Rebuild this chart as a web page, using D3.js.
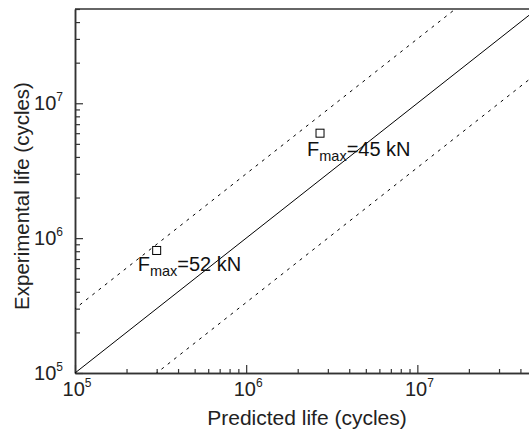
<!DOCTYPE html>
<html>
<head>
<meta charset="utf-8">
<script src="https://cdn.jsdelivr.net/npm/d3@7"></script>
<style>
	body { margin: 0; background: #fff; }
	svg { display: block; font-family: Arial, "Liberation Sans", sans-serif; }
</style>
</head>
<body>
<svg id="viz"></svg>
<script>

	// the data
	var predicted = [3.0e5, 2.7e6];
	var experimental = [8.1e5, 6.0e6];
	var loadLabels = ["52 kN", "45 kN"];
	var majorTicks = [1e5, 1e6, 1e7];
	var tickExponents = ["5", "6", "7"];
	var bandFactors = [1, 3, 1 / 3];

	// set up the svg
	var w = 529;
	var h = 433;
	var svg = d3.select("#viz").attr("width", w).attr("height", h);

	// plot box (note: "top" is taken by window.top)
	var pLeft = 75, pRight = 537, pTop = 9, pBottom = 373;

	var x = d3.scaleLog().domain([1e5, 5e7]).range([pLeft, pRight]);
	var y = d3.scaleLog().domain([1e5, 5e7]).range([pBottom, pTop]);

	svg.append("clipPath").attr("id", "plot")
		.append("rect")
		.attr("x", pLeft).attr("y", pTop)
		.attr("width", pRight - pLeft).attr("height", pBottom - pTop);

	// minor ticks = everything the log scale gives that is not a decade
	var minorX = x.ticks().filter(function(d) { return majorTicks.indexOf(d) < 0; });
	var minorY = y.ticks().filter(function(d) { return majorTicks.indexOf(d) < 0; });

	function styleAxis(g) {
		g.select(".domain").attr("stroke", "#333").attr("stroke-width", 1.5);
		g.selectAll(".tick line").attr("stroke", "#333").attr("stroke-width", 1.2);
		g.selectAll(".tick text").remove();
	}

	// x axis, ticks pointing inwards
	svg.append("g")
		.attr("transform", "translate(0," + pBottom + ")")
		.call(d3.axisBottom(x).tickValues(majorTicks).tickSize(-8).tickSizeOuter(0))
		.call(styleAxis);
	svg.append("g")
		.attr("transform", "translate(0," + pBottom + ")")
		.call(d3.axisBottom(x).tickValues(minorX).tickSize(-4).tickSizeOuter(0))
		.call(styleAxis);

	// y axis
	svg.append("g")
		.attr("transform", "translate(" + pLeft + ",0)")
		.call(d3.axisLeft(y).tickValues(majorTicks).tickSize(-8).tickSizeOuter(0))
		.call(styleAxis);
	svg.append("g")
		.attr("transform", "translate(" + pLeft + ",0)")
		.call(d3.axisLeft(y).tickValues(minorY).tickSize(-5).tickSizeOuter(0))
		.call(styleAxis);

	// top frame line
	svg.append("line")
		.attr("x1", pLeft).attr("x2", pRight)
		.attr("y1", pTop).attr("y2", pTop)
		.attr("stroke", "#333").attr("stroke-width", 1.5);

	// tick labels 10^n
	var xl = svg.selectAll(".xlab").data(majorTicks).enter().append("text")
		.attr("class", "xlab")
		.attr("x", function(d) { return x(d) + 2; })
		.attr("y", pBottom + 23)
		.attr("text-anchor", "middle")
		.attr("font-size", 20)
		.attr("fill", "#222");
	xl.append("tspan").text("10");
	xl.append("tspan").attr("font-size", 12).attr("dy", -9)
		.text(function(d, i) { return tickExponents[i]; });

	var yl = svg.selectAll(".ylab").data(majorTicks).enter().append("text")
		.attr("class", "ylab")
		.attr("x", pLeft - 12)
		.attr("y", function(d) { return y(d) + 7; })
		.attr("text-anchor", "end")
		.attr("font-size", 20)
		.attr("fill", "#222");
	yl.append("tspan").text("10");
	yl.append("tspan").attr("font-size", 12).attr("dy", -9)
		.text(function(d, i) { return tickExponents[i]; });

	// axis titles
	svg.append("text")
		.attr("x", 307).attr("y", 425)
		.attr("text-anchor", "middle")
		.attr("font-size", 21)
		.attr("fill", "#222")
		.text("Predicted life (cycles)");

	svg.append("text")
		.attr("transform", "translate(29,196) rotate(-90)")
		.attr("text-anchor", "middle")
		.attr("font-size", 20.5)
		.attr("fill", "#222")
		.text("Experimental life (cycles)");

	// 1:1 line and factor-of-3 band
	var span = [1e4, 1e9];
	svg.append("g").attr("clip-path", "url(#plot)")
		.selectAll("line").data(bandFactors).enter().append("line")
		.attr("x1", x(span[0])).attr("x2", x(span[1]))
		.attr("y1", function(f) { return y(span[0] * f); })
		.attr("y2", function(f) { return y(span[1] * f); })
		.attr("stroke", "#000")
		.attr("stroke-width", 1)
		.attr("stroke-dasharray", function(f) { return f === 1 ? null : "3,5"; });

	// the test points
	svg.selectAll(".pt").data(predicted).enter().append("rect")
		.attr("class", "pt")
		.attr("x", function(d) { return x(d) - 4; })
		.attr("y", function(d, i) { return y(experimental[i]) - 4; })
		.attr("width", 8).attr("height", 8)
		.attr("fill", "#fff")
		.attr("stroke", "#000")
		.attr("stroke-width", 1);

	// F_max labels
	var dx = [-19, -13], dy = [21, 23];
	var lab = svg.selectAll(".flab").data(predicted).enter().append("text")
		.attr("class", "flab")
		.attr("x", function(d, i) { return x(d) + dx[i]; })
		.attr("y", function(d, i) { return y(experimental[i]) + dy[i]; })
		.attr("font-size", 20)
		.attr("fill", "#111");
	lab.append("tspan").text("F");
	lab.append("tspan").attr("font-size", 14.5).attr("dy", 5).text("max");
	lab.append("tspan").attr("dy", -5)
		.text(function(d, i) { return "=" + loadLabels[i]; });

</script>
</body>
</html>
